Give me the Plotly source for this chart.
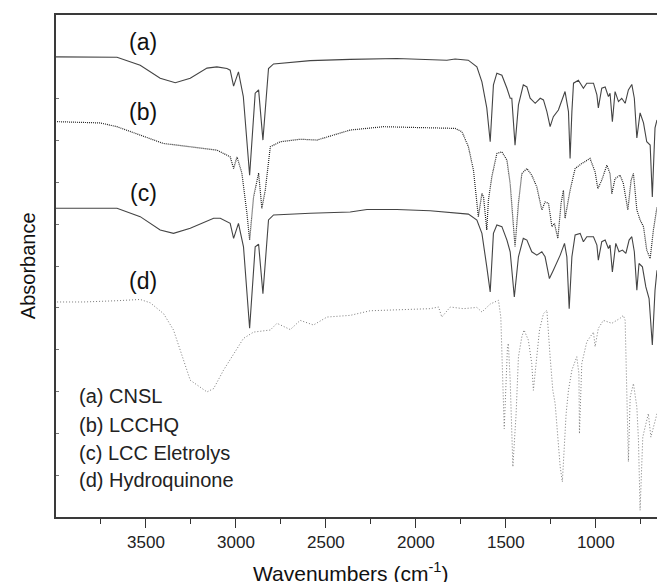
import plotly.graph_objects as go

# ---- data (wavenumber cm-1, absorbance a.u. with vertical offsets as plotted) ----
wn_a = [4000, 3661, 3532, 3421, 3337, 3254, 3161, 3106, 3050, 3032, 3013, 2986, 2959, 2924, 2893, 2874,
        2850, 2819, 2791, 2587, 2365, 2106, 1828, 1782, 1709, 1661, 1633, 1606, 1587, 1569, 1550, 1522,
        1494, 1476, 1467, 1449, 1430, 1403, 1383, 1365, 1337, 1309, 1291, 1272, 1254, 1236, 1208, 1180,
        1171, 1152, 1143, 1133, 1124, 1097, 1069, 1050, 1013, 994, 986, 967, 948, 930, 921, 908, 893,
        874, 856, 837, 819, 800, 786, 772, 754, 735, 717, 698, 692, 686, 676, 671, 660]
ab_a = [11.00, 10.99, 10.80, 10.49, 10.38, 10.49, 10.73, 10.76, 10.72, 10.68, 10.30, 10.64, 10.05, 8.17, 10.13, 10.21,
        9.01, 10.72, 10.83, 10.91, 10.94, 10.96, 10.92, 10.95, 10.92, 10.76, 10.40, 9.78, 8.97, 10.33, 10.61, 10.56,
        10.25, 10.01, 10.01, 8.89, 9.85, 10.33, 10.28, 10.01, 9.89, 10.01, 9.97, 9.69, 9.33, 9.57, 9.73, 10.09,
        10.17, 9.69, 8.57, 9.69, 10.37, 10.44, 10.25, 10.37, 10.37, 10.09, 9.78, 10.25, 10.28, 10.05, 10.13, 9.45, 10.17,
        9.93, 10.01, 9.89, 10.21, 10.34, 10.01, 9.06, 9.66, 9.42, 8.97, 8.89, 8.20, 7.65, 8.77, 9.30, 9.49]

wn_b = [3994, 3754, 3661, 3532, 3404, 3254, 3106, 3032, 3013, 2994, 2967, 2939, 2924, 2902, 2874, 2856,
        2837, 2809, 2754, 2643, 2550, 2365, 2180, 1994, 1782, 1744, 1708, 1680, 1653, 1633, 1624, 1606,
        1597, 1578, 1550, 1522, 1494, 1476, 1458, 1449, 1430, 1411, 1383, 1356, 1328, 1300, 1282, 1263,
        1244, 1230, 1211, 1193, 1180, 1171, 1143, 1115, 1078, 1032, 1004, 989, 967, 939, 921, 911, 893,
        865, 847, 822, 804, 791, 772, 754, 735, 717, 698, 680, 660]
ab_b = [9.45, 9.42, 9.33, 9.13, 8.93, 8.85, 8.77, 8.61, 8.33, 8.61, 8.22, 7.26, 6.62, 7.65, 8.22, 7.38,
        7.81, 8.85, 8.97, 9.03, 9.01, 9.25, 9.33, 9.31, 9.29, 9.21, 8.85, 8.29, 7.18, 7.73, 7.65, 6.86,
        7.57, 8.13, 8.69, 8.73, 8.53, 7.97, 6.94, 6.46, 7.50, 8.21, 8.33, 8.17, 7.89, 7.34, 7.53, 7.50,
        6.94, 7.02, 6.66, 7.50, 7.81, 7.14, 7.81, 8.33, 8.45, 8.57, 8.25, 7.85, 8.05, 8.41, 8.21, 7.73, 8.09,
        8.17, 7.97, 7.34, 8.05, 8.21, 7.34, 7.10, 6.94, 6.38, 6.18, 6.86, 7.41]

wn_c = [4000, 3661, 3532, 3421, 3347, 3254, 3124, 3087, 3032, 3013, 2986, 2958, 2924, 2893, 2874, 2850,
        2819, 2791, 2587, 2365, 2272, 2106, 1921, 1782, 1708, 1661, 1633, 1606, 1587, 1569, 1550, 1522,
        1494, 1476, 1453, 1430, 1403, 1383, 1356, 1328, 1300, 1282, 1258, 1236, 1198, 1174, 1161, 1148,
        1133, 1115, 1087, 1069, 1050, 1013, 994, 986, 967, 948, 930, 921, 908, 889, 871, 852, 833, 815,
        800, 786, 772, 760, 741, 722, 704, 686, 671, 660]
ab_c = [7.38, 7.38, 7.18, 6.86, 6.78, 6.90, 7.14, 7.14, 7.02, 6.66, 7.02, 6.46, 4.51, 6.46, 6.52, 5.34,
        7.10, 7.22, 7.26, 7.29, 7.35, 7.35, 7.32, 7.27, 7.24, 7.10, 6.78, 5.98, 5.38, 6.78, 6.98, 6.94,
        6.62, 6.34, 5.26, 6.22, 6.66, 6.62, 6.34, 6.26, 6.34, 6.22, 5.70, 5.90, 6.26, 6.54, 6.22, 4.98,
        6.22, 6.74, 6.78, 6.58, 6.70, 6.70, 6.50, 6.14, 6.58, 6.62, 6.42, 6.50, 5.86, 6.54, 6.34, 6.38, 6.30, 6.62,
        6.70, 6.34, 5.42, 6.06, 5.98, 5.50, 5.22, 4.11, 5.42, 5.90]

wn_d = [3994, 3847, 3661, 3532, 3476, 3402, 3347, 3291, 3254, 3161, 3124, 3069, 3013, 2958, 2902, 2809,
        2772, 2698, 2643, 2569, 2494, 2365, 2254, 2087, 1921, 1874, 1856, 1809, 1736, 1661, 1633, 1587,
        1541, 1528, 1517, 1509, 1491, 1486, 1476, 1461, 1443, 1430, 1411, 1399, 1375, 1356, 1347, 1332,
        1313, 1291, 1272, 1254, 1239, 1226, 1213, 1198, 1186, 1171, 1165, 1152, 1133, 1106, 1094, 1091,
        1078, 1050, 1013, 1004, 986, 958, 911, 865, 847, 837, 828, 819, 809, 791, 772, 763, 754, 739,
        726, 708, 694, 676, 660]
ab_d = [5.14, 5.14, 5.17, 5.20, 5.12, 4.86, 4.47, 3.75, 3.27, 2.99, 3.07, 3.51, 3.91, 4.27, 4.42, 4.47,
        4.63, 4.48, 4.70, 4.59, 4.78, 4.82, 4.93, 4.96, 4.98, 5.02, 4.78, 5.02, 4.98, 5.01, 4.90, 5.09,
        5.18, 4.78, 3.27, 2.11, 4.07, 4.15, 3.27, 1.20, 2.47, 3.83, 4.31, 4.47, 4.23, 3.67, 3.03, 3.75,
        4.47, 4.86, 4.94, 3.83, 3.03, 2.71, 2.07, 1.20, 0.84, 1.83, 2.47, 3.03, 3.51, 3.83, 3.43, 1.99,
        3.67, 4.19, 4.42, 4.07, 4.51, 4.70, 4.63, 4.75, 4.82, 4.70, 2.87, 1.32, 2.87, 3.19, 2.63, 1.83, 0.16, 1.91,
        2.15, 2.47, 1.91, 2.23, 2.47]

curve_tags = ["(a)", "(b)", "(c)", "(d)"]
tag_y = [11.36, 9.69, 7.74, 5.64]
names = ["(a) CNSL", "(b) LCCHQ", "(c) LCC Eletrolys", "(d) Hydroquinone"]

major_ticks = [3500, 3000, 2500, 2000, 1500, 1000]
minor_ticks = [3750, 3250, 2750, 2250, 1750, 1250, 750]

FONT = "Arial, Liberation Sans, sans-serif"

fig = go.Figure()
fig.add_trace(go.Scatter(x=wn_a, y=ab_a, mode="lines", name=names[0],
                         line=dict(color="#444444", width=1.1)))
fig.add_trace(go.Scatter(x=wn_b, y=ab_b, mode="lines", name=names[1],
                         line=dict(color="#222222", width=1.2, dash="1px,1px")))
fig.add_trace(go.Scatter(x=wn_c, y=ab_c, mode="lines", name=names[2],
                         line=dict(color="#444444", width=1.1)))
fig.add_trace(go.Scatter(x=wn_d, y=ab_d, mode="lines", name=names[3],
                         line=dict(color="#7a7a7a", width=1, dash="1px,2px")))

for t, yv in zip(curve_tags, tag_y):
    fig.add_annotation(x=3515, y=yv, xref="x", yref="y", text=t, showarrow=False,
                       font=dict(family=FONT, size=23, color="#111"))

leg_y = [0.2406, 0.1828, 0.127, 0.0731]
for t, yp in zip(names, leg_y):
    fig.add_annotation(x=0.035, y=yp, xref="paper", yref="paper", text=t, showarrow=False,
                       xanchor="left", yanchor="middle",
                       font=dict(family=FONT, size=20, color="#222"))

# axis titles as annotations for exact placement
fig.add_annotation(x=-0.0466, y=0.5017, xref="paper", yref="paper", text="Absorbance",
                   textangle=-90, showarrow=False, xanchor="center", yanchor="middle",
                   font=dict(family=FONT, size=20, color="#111"))
fig.add_annotation(x=0.491, y=-0.110, xref="paper", yref="paper", text="Wavenumbers (cm<sup>-1</sup>)",
                   showarrow=False, xanchor="center", yanchor="middle",
                   font=dict(family=FONT, size=21, color="#111"))

fig.update_layout(
    width=657, height=582,
    margin=dict(l=56, r=0, t=15, b=65, autoexpand=False),
    paper_bgcolor="white", plot_bgcolor="white",
    showlegend=False,
    font=dict(family=FONT, color="#222"),
)
fig.update_xaxes(
    range=[4000, 660], tickvals=major_ticks, ticktext=[str(v) for v in major_ticks],
    ticks="outside", ticklen=9, tickwidth=1.2, tickcolor="#333",
    minor=dict(tickvals=minor_ticks, ticks="outside", ticklen=5, tickwidth=1.2, tickcolor="#333"),
    showline=True, linecolor="#3a3a3a", linewidth=1.8, mirror=True,
    showgrid=False, zeroline=False, automargin=False,
    tickfont=dict(family=FONT, size=17, color="#222"),
)
fig.update_yaxes(
    range=[0, 12], dtick=1, tick0=0, showticklabels=False,
    ticks="inside", ticklen=3, tickwidth=1, tickcolor="#777",
    showline=True, linecolor="#3a3a3a", linewidth=1.8,
    showgrid=False, zeroline=False, automargin=False,
)

fig.write_html("out.html", config={"displayModeBar": False},
               post_script="document.body.style.margin='0';document.body.style.overflow='hidden';")
